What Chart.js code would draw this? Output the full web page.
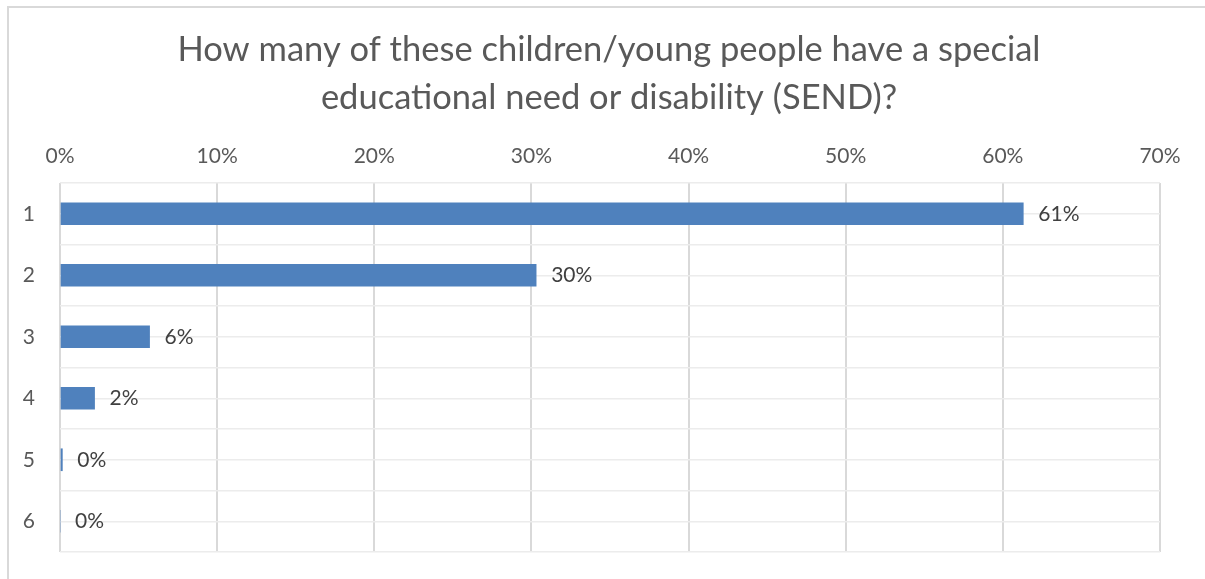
<!DOCTYPE html>
<html>
<head>
<meta charset="utf-8">
<script src="https://cdn.jsdelivr.net/npm/chart.js@4.4.0/dist/chart.umd.min.js"></script>
<style>
  html, body { margin: 0; padding: 0; background: #fff; }
  #wrap { position: relative; width: 1205px; height: 579px; overflow: hidden; }
  #frame { position: absolute; left: 7px; top: 6px; width: 1300px; height: 700px;
           border-left: 2px solid #d9d9d9; border-top: 2px solid #d9d9d9; box-sizing: border-box; }
  canvas { position: absolute; left: 0; top: 0; }
</style>
</head>
<body>
<div id="wrap">
  <div id="frame"></div>
  <canvas id="chart" width="1205" height="579"></canvas>
</div>
<script>
const titleLines = ['How many of these children/young people have a special', 'educational need or disability (SEND)?'];
const categories = ['1', '2', '3', '4', '5', '6'];
const shares = [61.3, 30.3, 5.7, 2.2, 0.15, 0];
const tickMax = 70;
const tickStep = 10;

const FONT = 'Lato, "Open Sans", sans-serif';

// value labels to the right of each bar
const barLabels = {
  id: 'barLabels',
  afterDatasetsDraw(chart) {
    const ctx = chart.ctx;
    const meta = chart.getDatasetMeta(0);
    ctx.save();
    ctx.font = '21px ' + FONT;
    ctx.fillStyle = '#404040';
    ctx.textBaseline = 'middle';
    ctx.textAlign = 'left';
    meta.data.forEach((bar, i) => {
      ctx.fillText(Math.round(shares[i]) + '%', bar.x + 15, bar.y);
    });
    ctx.restore();
  }
};

// fixed axis sizes, no extra label padding
const fixSize = (w, h) => s => {
  if (w !== null) s.width = w;
  if (h !== null) s.height = h;
  s.paddingTop = 0; s.paddingBottom = 0; s.paddingLeft = 0; s.paddingRight = 0;
};

new Chart(document.getElementById('chart').getContext('2d'), {
  type: 'bar',
  data: {
    labels: categories,
    datasets: [{
      data: shares,
      backgroundColor: '#4F81BD',
      barThickness: 22
    }]
  },
  options: {
    indexAxis: 'y',
    responsive: false,
    animation: false,
    // negative right padding + spacer axis keeps the title centred like the original
    layout: { padding: { left: 0, right: -13, top: 0, bottom: 27 } },
    plugins: {
      legend: { display: false },
      tooltip: { enabled: false },
      title: {
        display: true,
        text: titleLines,
        color: '#595959',
        font: { family: FONT, size: 34.5, weight: 'normal', lineHeight: 48 / 34.5 },
        padding: { top: 26, bottom: 0 }
      }
    },
    scales: {
      x: {
        position: 'top',
        min: 0,
        max: tickMax,
        ticks: {
          stepSize: tickStep,
          color: '#595959',
          padding: 14,
          font: { family: FONT, size: 21 },
          callback: v => v + '%'
        },
        grid: { color: '#d9d9d9', lineWidth: 2, drawTicks: false },
        border: { display: false },
        afterFit: fixSize(null, 61)
      },
      y: {
        position: 'left',
        ticks: {
          color: '#595959',
          padding: 25,
          font: { family: FONT, size: 21 }
        },
        grid: { color: '#ececec', lineWidth: 1.5, offset: true, drawTicks: false },
        border: { display: false },
        afterFit: fixSize(60, null)
      },
      yMid: {
        type: 'category',
        position: 'left',
        labels: categories,
        offset: true,
        ticks: { display: false },
        grid: { color: '#ececec', lineWidth: 1.5, offset: false, drawTicks: false },
        border: { display: false },
        afterFit: fixSize(0, null)
      },
      ySpace: {
        type: 'category',
        position: 'right',
        labels: categories,
        ticks: { display: false },
        grid: { display: false },
        border: { display: false },
        afterFit: fixSize(58, null)
      }
    }
  },
  plugins: [barLabels]
});
</script>
</body>
</html>
